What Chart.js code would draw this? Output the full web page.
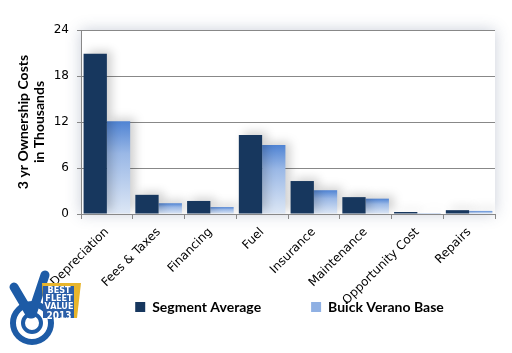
<!DOCTYPE html>
<html>
<head>
<meta charset="utf-8">
<script src="https://cdn.jsdelivr.net/npm/chart.js@4"></script>
<style>
  html, body { margin: 0; padding: 0; background: #fff; }
  #wrap { width: 512px; height: 353px; }
</style>
</head>
<body>
<div id="wrap"><canvas id="chart" width="512" height="353"></canvas></div>
<script>
const categories = ['Depreciation', 'Fees & Taxes', 'Financing', 'Fuel', 'Insurance', 'Maintenance', 'Opportunity Cost', 'Repairs'];
const segmentAverage = [20.9, 2.5, 1.7, 10.3, 4.3, 2.2, 0.26, 0.5];
const buickVerano = [12.1, 1.4, 0.9, 9.0, 3.1, 2.0, 0.13, 0.4];
const yTicks = [0, 6, 12, 18, 24];
const yTitle = ['3 yr Ownership Costs', 'in Thousands'];

// per-bar gradient, blue on top fading to pale at the base
function buickFill(ctx) {
    const chart = ctx.chart;
    const area = chart.chartArea;
    if (!area || ctx.type !== 'data') return '#5b8fd6';
    const y = chart.scales.y;
    const top = y.getPixelForValue(ctx.parsed.y);
    const bottom = y.getPixelForValue(0);
    if (!(bottom > top)) return '#5b8fd6';
    const g = chart.ctx.createLinearGradient(0, top, 0, bottom);
    g.addColorStop(0, '#4f83d3');
    g.addColorStop(0.35, '#9ab8e6');
    g.addColorStop(1, '#dde7f5');
    return g;
}

const plotShadow = {
    id: 'plotShadow',
    beforeDraw(chart) {
        const { ctx, chartArea: a } = chart;
        ctx.save();
        ctx.shadowColor = 'rgba(60,80,120,0.28)';
        ctx.shadowBlur = 14;
        ctx.fillStyle = '#fff';
        ctx.fillRect(a.left, a.top, a.right - a.left, a.bottom - a.top);
        ctx.restore();
    },
    beforeDatasetsDraw(chart) {
        const ctx = chart.ctx;
        ctx.save();
        ctx.shadowColor = 'rgba(0,0,0,0.18)';
        ctx.shadowBlur = 10;
        ctx.shadowOffsetX = 5;
        ctx.shadowOffsetY = -3;
    },
    afterDatasetsDraw(chart) {
        chart.ctx.restore();
    },
    afterLayout(chart) {
        // legend sits right of the canvas centre
        chart.legend.left += 42;
        chart.legend.right += 42;
        // let the rotated labels run down past the scale box
        chart.scales.x.bottom = chart.height;
    }
};

// rough badge in the lower left corner
const badge = {
    id: 'badge',
    afterDraw(chart) {
        const ctx = chart.ctx;
        ctx.save();
        ctx.strokeStyle = '#1d5ba6';
        ctx.lineCap = 'round';
        ctx.lineWidth = 6;
        ctx.beginPath();
        ctx.arc(32, 323, 19, 0, Math.PI * 2);
        ctx.stroke();
        ctx.lineWidth = 4;
        ctx.beginPath();
        ctx.arc(32, 323, 9, 0, Math.PI * 2);
        ctx.stroke();
        ctx.lineWidth = 9;
        ctx.beginPath();
        ctx.moveTo(14, 287);
        ctx.lineTo(30, 314);
        ctx.moveTo(45, 275);
        ctx.lineTo(32, 314);
        ctx.stroke();
        ctx.fillStyle = '#e8b52c';
        ctx.beginPath();
        ctx.moveTo(42, 283);
        ctx.lineTo(81, 283);
        ctx.lineTo(77, 318);
        ctx.lineTo(44, 318);
        ctx.closePath();
        ctx.fill();
        ctx.fillStyle = '#2a5ea8';
        ctx.fillRect(43, 286, 31, 32);
        ctx.fillStyle = '#fff';
        ctx.textAlign = 'center';
        ctx.textBaseline = 'middle';
        ctx.font = 'bold 9px "DejaVu Sans Condensed", sans-serif';
        ctx.fillText('BEST', 59, 291);
        ctx.fillText('FLEET', 59, 299);
        ctx.fillText('VALUE', 59, 307);
        ctx.font = 'bold 10px "DejaVu Sans Condensed", sans-serif';
        ctx.fillText('2013', 59, 316);
        ctx.restore();
    }
};

new Chart(document.getElementById('chart'), {
    type: 'bar',
    data: {
        labels: categories,
        datasets: [
            { label: 'Segment Average', data: segmentAverage, backgroundColor: '#17375e' },
            { label: 'Buick Verano Base', data: buickVerano, backgroundColor: buickFill }
        ]
    },
    options: {
        responsive: false,
        animation: false,
        devicePixelRatio: 1,
        layout: { padding: { top: 30, right: 17, bottom: 29, left: 0 } },
        datasets: { bar: { categoryPercentage: 0.9, barPercentage: 1.0 } },
        plugins: {
            tooltip: { enabled: false },
            legend: {
                position: 'bottom',
                labels: {
                    boxWidth: 10,
                    boxHeight: 10,
                    padding: 50,
                    color: '#1a1a33',
                    font: { family: 'Lato', size: 14, weight: 'bold' },
                    generateLabels(chart) {
                        return chart.data.datasets.map((ds, i) => ({
                            text: ds.label,
                            fillStyle: i === 0 ? '#17375e' : '#8fb0e3',
                            strokeStyle: 'transparent',
                            lineWidth: 0,
                            datasetIndex: i
                        }));
                    }
                }
            }
        },
        scales: {
            x: {
                grid: { display: true, drawOnChartArea: false, drawTicks: true, tickLength: 5, color: '#888', offset: true },
                border: { display: true, color: '#888' },
                ticks: {
                    maxRotation: 45, minRotation: 45, padding: 6,
                    color: '#000',
                    font: { family: 'DejaVu Sans', size: 12 }
                },
                afterFit(s) { s.height = 36; }
            },
            y: {
                min: 0, max: 24,
                afterBuildTicks(s) { s.ticks = yTicks.map(v => ({ value: v })); },
                grid: { color: '#888', tickLength: 4, drawTicks: true },
                border: { display: true, color: '#888' },
                ticks: {
                    padding: 8,
                    color: '#000',
                    font: { family: 'DejaVu Sans', size: 12 }
                },
                title: {
                    display: true,
                    text: yTitle,
                    color: '#000',
                    padding: { top: 15, bottom: 5 },
                    font: { family: 'Lato', size: 14, weight: 'bold', lineHeight: 1.15 }
                },
                afterFit(s) { s.width = 81; }
            }
        }
    },
    plugins: [plotShadow, badge]
});
</script>
</body>
</html>
